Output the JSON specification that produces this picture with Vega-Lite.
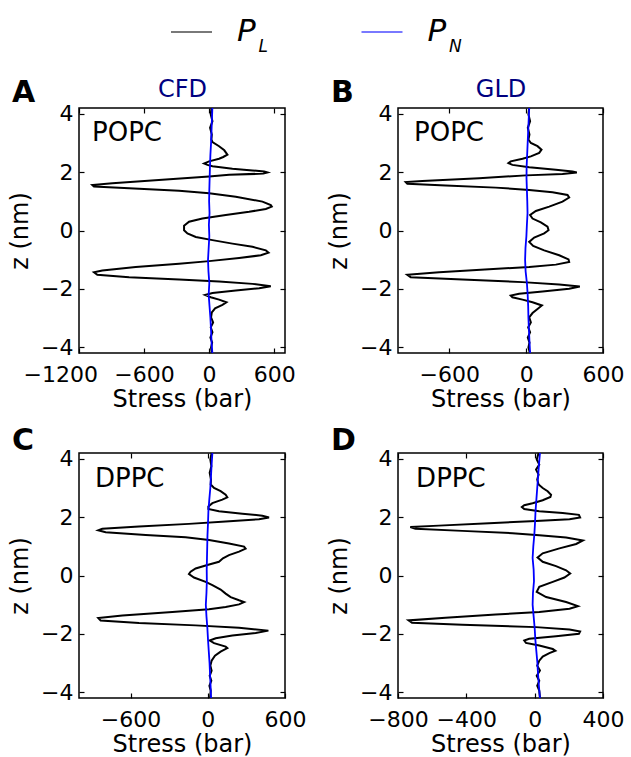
{
"$schema": "https://vega.github.io/schema/vega-lite/v6.json",
"autosize": {"type": "none"},
"padding": {"left": 79, "top": 0, "right": 552, "bottom": 757},
"background": "white",
"config": {
  "font": "DejaVu Sans",
  "view": {"stroke": null},
  "axis": {"tickSize": -5, "tickWidth": 1.2, "tickColor": "black", "domain": false, "grid": false,
    "labelFont": "DejaVu Sans", "labelFontSize": 22, "labelColor": "black",
    "titleFont": "DejaVu Sans", "titleFontSize": 24, "titleFontWeight": "normal", "titleColor": "black",
    "labelFlush": false, "labelOverlap": false, "labelBound": false},
  "title": {"font": "DejaVu Sans", "fontSize": 30, "fontWeight": "bold", "color": "black", "anchor": "start", "frame": "group", "baseline": "alphabetic"}
},
"datasets": {
"A_PL": [{"z":4.2,"stress":22},{"z":3.98,"stress":15},{"z":3.75,"stress":31},{"z":3.52,"stress":9},{"z":3.29,"stress":25},{"z":3.12,"stress":21},{"z":3.03,"stress":31},{"z":2.89,"stress":92},{"z":2.75,"stress":140},{"z":2.6,"stress":169},{"z":2.52,"stress":130},{"z":2.46,"stress":92},{"z":2.37,"stress":0},{"z":2.3,"stress":-46},{"z":2.25,"stress":-15},{"z":2.2,"stress":31},{"z":2.12,"stress":215},{"z":2.06,"stress":400},{"z":2.02,"stress":508},{"z":1.99,"stress":538},{"z":1.95,"stress":500},{"z":1.91,"stress":185},{"z":1.85,"stress":0},{"z":1.74,"stress":-431},{"z":1.62,"stress":-892},{"z":1.56,"stress":-1077},{"z":1.51,"stress":-1062},{"z":1.45,"stress":-738},{"z":1.36,"stress":-277},{"z":1.28,"stress":0},{"z":1.16,"stress":246},{"z":0.99,"stress":492},{"z":0.87,"stress":569},{"z":0.82,"stress":578},{"z":0.74,"stress":523},{"z":0.64,"stress":369},{"z":0.53,"stress":154},{"z":0.41,"stress":-62},{"z":0.3,"stress":-185},{"z":0.16,"stress":-231},{"z":0.01,"stress":-231},{"z":-0.1,"stress":-200},{"z":-0.22,"stress":-123},{"z":-0.33,"stress":31},{"z":-0.45,"stress":215},{"z":-0.56,"stress":400},{"z":-0.68,"stress":523},{"z":-0.76,"stress":548},{"z":-0.85,"stress":477},{"z":-0.94,"stress":277},{"z":-1.05,"stress":0},{"z":-1.14,"stress":-277},{"z":-1.25,"stress":-677},{"z":-1.37,"stress":-985},{"z":-1.43,"stress":-1062},{"z":-1.52,"stress":-1031},{"z":-1.6,"stress":-738},{"z":-1.68,"stress":-277},{"z":-1.75,"stress":92},{"z":-1.83,"stress":400},{"z":-1.91,"stress":569},{"z":-1.98,"stress":462},{"z":-2.06,"stress":246},{"z":-2.14,"stress":31},{"z":-2.21,"stress":-37},{"z":-2.29,"stress":15},{"z":-2.37,"stress":92},{"z":-2.46,"stress":160},{"z":-2.55,"stress":123},{"z":-2.67,"stress":55},{"z":-2.81,"stress":25},{"z":-2.98,"stress":18},{"z":-3.15,"stress":37},{"z":-3.32,"stress":15},{"z":-3.49,"stress":31},{"z":-3.67,"stress":12},{"z":-3.84,"stress":28},{"z":-4.01,"stress":18},{"z":-4.2,"stress":25}],
"A_PN": [{"z":4.2,"stress":30},{"z":3.8,"stress":26},{"z":3.4,"stress":22},{"z":3.0,"stress":18},{"z":2.6,"stress":12},{"z":2.2,"stress":8},{"z":1.8,"stress":5},{"z":1.4,"stress":2},{"z":1.0,"stress":0},{"z":0.6,"stress":4},{"z":0.2,"stress":-2},{"z":-0.2,"stress":2},{"z":-0.6,"stress":-4},{"z":-1.0,"stress":-10},{"z":-1.4,"stress":-6},{"z":-1.8,"stress":2},{"z":-2.2,"stress":-4},{"z":-2.6,"stress":4},{"z":-3.0,"stress":12},{"z":-3.4,"stress":18},{"z":-3.8,"stress":22},{"z":-4.2,"stress":30}],
"B_PL": [{"z":4.2,"stress":24},{"z":3.98,"stress":18},{"z":3.75,"stress":31},{"z":3.52,"stress":13},{"z":3.29,"stress":26},{"z":3.12,"stress":18},{"z":3.0,"stress":37},{"z":2.89,"stress":89},{"z":2.77,"stress":120},{"z":2.66,"stress":102},{"z":2.54,"stress":37},{"z":2.46,"stress":-28},{"z":2.37,"stress":-120},{"z":2.31,"stress":-138},{"z":2.25,"stress":-107},{"z":2.17,"stress":24},{"z":2.08,"stress":232},{"z":2.02,"stress":362},{"z":1.99,"stress":396},{"z":1.94,"stress":284},{"z":1.89,"stress":-2},{"z":1.79,"stress":-367},{"z":1.7,"stress":-810},{"z":1.66,"stress":-940},{"z":1.6,"stress":-927},{"z":1.54,"stress":-627},{"z":1.47,"stress":-237},{"z":1.39,"stress":24},{"z":1.31,"stress":206},{"z":1.22,"stress":323},{"z":1.13,"stress":336},{"z":0.99,"stress":284},{"z":0.82,"stress":180},{"z":0.67,"stress":76},{"z":0.53,"stress":31},{"z":0.41,"stress":50},{"z":0.28,"stress":115},{"z":0.13,"stress":167},{"z":0.01,"stress":175},{"z":-0.1,"stress":141},{"z":-0.24,"stress":63},{"z":-0.39,"stress":24},{"z":-0.53,"stress":55},{"z":-0.68,"stress":141},{"z":-0.85,"stress":258},{"z":-0.99,"stress":331},{"z":-1.08,"stress":336},{"z":-1.17,"stress":232},{"z":-1.25,"stress":24},{"z":-1.33,"stress":-289},{"z":-1.43,"stress":-679},{"z":-1.52,"stress":-927},{"z":-1.6,"stress":-901},{"z":-1.68,"stress":-497},{"z":-1.77,"stress":-28},{"z":-1.85,"stress":258},{"z":-1.92,"stress":419},{"z":-2.0,"stress":336},{"z":-2.09,"stress":128},{"z":-2.17,"stress":-55},{"z":-2.23,"stress":-120},{"z":-2.29,"stress":-107},{"z":-2.37,"stress":-28},{"z":-2.46,"stress":50},{"z":-2.57,"stress":123},{"z":-2.69,"stress":89},{"z":-2.83,"stress":50},{"z":-2.98,"stress":24},{"z":-3.15,"stress":37},{"z":-3.32,"stress":16},{"z":-3.49,"stress":31},{"z":-3.67,"stress":13},{"z":-3.84,"stress":26},{"z":-4.01,"stress":18},{"z":-4.2,"stress":29}],
"B_PN": [{"z":4.2,"stress":24},{"z":3.8,"stress":20},{"z":3.4,"stress":16},{"z":3.0,"stress":12},{"z":2.6,"stress":8},{"z":2.2,"stress":4},{"z":1.8,"stress":3},{"z":1.4,"stress":6},{"z":1.0,"stress":9},{"z":0.6,"stress":11},{"z":0.2,"stress":6},{"z":-0.2,"stress":2},{"z":-0.6,"stress":-5},{"z":-1.0,"stress":-8},{"z":-1.4,"stress":-4},{"z":-1.8,"stress":6},{"z":-2.2,"stress":12},{"z":-2.6,"stress":16},{"z":-3.0,"stress":18},{"z":-3.4,"stress":22},{"z":-3.8,"stress":26},{"z":-4.2,"stress":31}],
"C_PL": [{"z":4.2,"stress":30},{"z":3.98,"stress":20},{"z":3.75,"stress":28},{"z":3.52,"stress":15},{"z":3.29,"stress":25},{"z":3.12,"stress":23},{"z":3.0,"stress":49},{"z":2.89,"stress":100},{"z":2.77,"stress":139},{"z":2.68,"stress":152},{"z":2.6,"stress":113},{"z":2.48,"stress":36},{"z":2.37,"stress":5},{"z":2.28,"stress":5},{"z":2.2,"stress":87},{"z":2.12,"stress":269},{"z":2.05,"stress":424},{"z":1.99,"stress":476},{"z":1.93,"stress":398},{"z":1.85,"stress":139},{"z":1.77,"stress":-146},{"z":1.68,"stress":-534},{"z":1.6,"stress":-819},{"z":1.55,"stress":-850},{"z":1.48,"stress":-793},{"z":1.39,"stress":-482},{"z":1.31,"stress":-172},{"z":1.22,"stress":10},{"z":1.1,"stress":165},{"z":0.99,"stress":282},{"z":0.92,"stress":294},{"z":0.82,"stress":243},{"z":0.7,"stress":165},{"z":0.59,"stress":118},{"z":0.47,"stress":87},{"z":0.36,"stress":-3},{"z":0.24,"stress":-94},{"z":0.13,"stress":-133},{"z":0.05,"stress":-146},{"z":-0.07,"stress":-107},{"z":-0.22,"stress":-16},{"z":-0.33,"stress":36},{"z":-0.48,"stress":100},{"z":-0.62,"stress":139},{"z":-0.74,"stress":178},{"z":-0.85,"stress":243},{"z":-0.91,"stress":282},{"z":-0.99,"stress":243},{"z":-1.08,"stress":139},{"z":-1.16,"stress":10},{"z":-1.25,"stress":-275},{"z":-1.37,"stress":-663},{"z":-1.46,"stress":-850},{"z":-1.54,"stress":-832},{"z":-1.63,"stress":-534},{"z":-1.71,"stress":-94},{"z":-1.79,"stress":243},{"z":-1.89,"stress":471},{"z":-1.97,"stress":372},{"z":-2.06,"stress":191},{"z":-2.15,"stress":62},{"z":-2.23,"stress":15},{"z":-2.32,"stress":49},{"z":-2.44,"stress":139},{"z":-2.49,"stress":152},{"z":-2.61,"stress":100},{"z":-2.75,"stress":56},{"z":-2.92,"stress":30},{"z":-3.09,"stress":20},{"z":-3.26,"stress":30},{"z":-3.44,"stress":15},{"z":-3.61,"stress":28},{"z":-3.78,"stress":13},{"z":-3.95,"stress":23},{"z":-4.2,"stress":18}],
"C_PN": [{"z":4.2,"stress":36},{"z":3.8,"stress":30},{"z":3.4,"stress":25},{"z":3.0,"stress":20},{"z":2.6,"stress":12},{"z":2.2,"stress":5},{"z":1.8,"stress":2},{"z":1.4,"stress":-2},{"z":1.0,"stress":-4},{"z":0.6,"stress":-6},{"z":0.2,"stress":-8},{"z":-0.2,"stress":-7},{"z":-0.6,"stress":-10},{"z":-1.0,"stress":-15},{"z":-1.4,"stress":-10},{"z":-1.8,"stress":-3},{"z":-2.2,"stress":2},{"z":-2.6,"stress":8},{"z":-3.0,"stress":14},{"z":-3.4,"stress":18},{"z":-3.8,"stress":22},{"z":-4.2,"stress":26}],
"D_PL": [{"z":4.2,"stress":23},{"z":3.98,"stress":12},{"z":3.8,"stress":27},{"z":3.63,"stress":8},{"z":3.46,"stress":23},{"z":3.29,"stress":15},{"z":3.12,"stress":23},{"z":3.0,"stress":47},{"z":2.89,"stress":76},{"z":2.77,"stress":96},{"z":2.69,"stress":92},{"z":2.58,"stress":47},{"z":2.48,"stress":-12},{"z":2.41,"stress":-61},{"z":2.35,"stress":-75},{"z":2.28,"stress":-61},{"z":2.2,"stress":27},{"z":2.14,"stress":164},{"z":2.08,"stress":259},{"z":1.99,"stress":266},{"z":1.93,"stress":204},{"z":1.87,"stress":8},{"z":1.79,"stress":-267},{"z":1.71,"stress":-561},{"z":1.66,"stress":-728},{"z":1.6,"stress":-698},{"z":1.53,"stress":-424},{"z":1.45,"stress":-130},{"z":1.38,"stress":27},{"z":1.3,"stress":184},{"z":1.2,"stress":282},{"z":1.08,"stress":243},{"z":0.93,"stress":145},{"z":0.76,"stress":47},{"z":0.62,"stress":17},{"z":0.47,"stress":47},{"z":0.32,"stress":125},{"z":0.18,"stress":184},{"z":0.07,"stress":208},{"z":-0.07,"stress":174},{"z":-0.22,"stress":106},{"z":-0.39,"stress":27},{"z":-0.56,"stress":12},{"z":-0.74,"stress":67},{"z":-0.91,"stress":184},{"z":-1.05,"stress":253},{"z":-1.14,"stress":204},{"z":-1.25,"stress":27},{"z":-1.34,"stress":-228},{"z":-1.45,"stress":-522},{"z":-1.54,"stress":-738},{"z":-1.62,"stress":-718},{"z":-1.69,"stress":-424},{"z":-1.77,"stress":8},{"z":-1.85,"stress":204},{"z":-1.92,"stress":266},{"z":-2.0,"stress":259},{"z":-2.08,"stress":125},{"z":-2.17,"stress":-32},{"z":-2.23,"stress":-61},{"z":-2.31,"stress":-51},{"z":-2.4,"stress":27},{"z":-2.52,"stress":106},{"z":-2.58,"stress":121},{"z":-2.66,"stress":86},{"z":-2.78,"stress":47},{"z":-2.92,"stress":27},{"z":-3.09,"stress":15},{"z":-3.26,"stress":31},{"z":-3.44,"stress":12},{"z":-3.61,"stress":27},{"z":-3.78,"stress":15},{"z":-3.95,"stress":27},{"z":-4.2,"stress":31}],
"D_PN": [{"z":4.2,"stress":31},{"z":3.8,"stress":25},{"z":3.4,"stress":20},{"z":3.0,"stress":15},{"z":2.6,"stress":10},{"z":2.2,"stress":5},{"z":1.8,"stress":2},{"z":1.4,"stress":-2},{"z":1.0,"stress":-8},{"z":0.6,"stress":-12},{"z":0.2,"stress":-6},{"z":-0.2,"stress":-4},{"z":-0.6,"stress":-10},{"z":-1.0,"stress":-12},{"z":-1.4,"stress":-6},{"z":-1.8,"stress":0},{"z":-2.2,"stress":4},{"z":-2.6,"stress":10},{"z":-3.0,"stress":16},{"z":-3.4,"stress":20},{"z":-3.8,"stress":25},{"z":-4.2,"stress":31}]
},
"columns": 2,
"spacing": {"row": 100, "column": 113},
"bounds": "flush",
"align": "each",
"concat": [
  {
    "width": 206, "height": 8,
    "view": {"stroke": null},
    "data": {"values": [{"series": "P_L", "main": "P", "sub": "L"}, {"series": "P_N", "main": "P", "sub": "N"}]},
    "encoding": {
      "x": {"field": "series", "type": "nominal", "scale": {"type": "point", "domain": ["P_L", "P_N"], "padding": 0.0407, "align": 0}, "axis": null}
    },
    "layer": [
      {"mark": {"type": "tick", "orient": "horizontal", "size": 41, "thickness": 1.5, "xOffset": 112.5, "yOffset": 28},
       "encoding": {"color": {"field": "series", "type": "nominal", "scale": {"domain": ["P_L", "P_N"], "range": ["black", "#0000ff"]}, "legend": null}}},
      {"mark": {"type": "text", "align": "left", "baseline": "alphabetic", "fontSize": 31, "fontStyle": "italic", "xOffset": 158, "yOffset": 37, "color": "black"},
       "encoding": {"text": {"field": "main"}}},
      {"mark": {"type": "text", "align": "left", "baseline": "alphabetic", "fontSize": 17, "fontStyle": "italic", "xOffset": 179.5, "yOffset": 48, "color": "black"},
       "encoding": {"text": {"field": "sub"}}}
    ]
  },
  {
    "width": 1, "height": 1,
    "view": {"stroke": null},
    "data": {"values": [{"a": 1}]},
    "mark": {"type": "text", "text": ""}
  },
  {
    "width": 206, "height": 245,
    "view": {"stroke": "black", "strokeWidth": 1.5},
    "title": {"text": "A", "dx": -67, "offset": -31},
    "layer": [
      {"data": {"name": "A_PL"}, "mark": {"type": "line", "color": "black", "strokeWidth": 2},
       "encoding": {
         "x": {"field": "stress", "type": "quantitative", "scale": {"domain": [-1200, 700], "nice": false, "zero": false},
               "axis": {"orient": "bottom", "values": [-1200, -600, 0, 600], "format": "d", "title": "Stress (bar)", "labelPadding": 16, "titlePadding": 2, "labelFlush": true, "labelFlushOffset": 56}},
         "y": {"field": "z", "type": "quantitative", "scale": {"domain": [-4.2, 4.2], "nice": false, "zero": false},
               "axis": {"orient": "left", "values": [-4, -2, 0, 2, 4], "format": "d", "title": "z (nm)", "labelPadding": 11, "titlePadding": 8}},
         "order": {"field": "z", "type": "quantitative"}}},
      {"data": {"name": "A_PN"}, "mark": {"type": "line", "color": "#0000ff", "strokeWidth": 1.8},
       "encoding": {
         "x": {"field": "stress", "type": "quantitative", "axis": {"orient": "top", "values": [-1200, -600, 0, 600], "labels": false, "title": "CFD", "titleColor": "#000080", "titlePadding": 6}},
         "y": {"field": "z", "type": "quantitative", "axis": {"orient": "right", "values": [-4, -2, 0, 2, 4], "labels": false, "title": null}},
         "order": {"field": "z", "type": "quantitative"}}},
      {"data": {"values": [{"label": "POPC"}]}, "mark": {"type": "text", "align": "left", "baseline": "alphabetic", "fontSize": 26, "color": "black"},
       "encoding": {"text": {"field": "label"},
         "x": {"datum": -1080, "type": "quantitative", "axis": null},
         "y": {"datum": 3.08, "type": "quantitative", "axis": null}}}
    ],
    "resolve": {"axis": {"x": "independent", "y": "independent"}}
  },
  {
    "width": 205, "height": 245,
    "view": {"stroke": "black", "strokeWidth": 1.5},
    "title": {"text": "B", "dx": -67, "offset": -31},
    "layer": [
      {"data": {"name": "B_PL"}, "mark": {"type": "line", "color": "black", "strokeWidth": 2},
       "encoding": {
         "x": {"field": "stress", "type": "quantitative", "scale": {"domain": [-1000, 600], "nice": false, "zero": false},
               "axis": {"orient": "bottom", "values": [-600, 0, 600], "format": "d", "title": "Stress (bar)", "labelPadding": 16, "titlePadding": 2}},
         "y": {"field": "z", "type": "quantitative", "scale": {"domain": [-4.2, 4.2], "nice": false, "zero": false},
               "axis": {"orient": "left", "values": [-4, -2, 0, 2, 4], "format": "d", "title": "z (nm)", "labelPadding": 11, "titlePadding": 8}},
         "order": {"field": "z", "type": "quantitative"}}},
      {"data": {"name": "B_PN"}, "mark": {"type": "line", "color": "#0000ff", "strokeWidth": 1.8},
       "encoding": {
         "x": {"field": "stress", "type": "quantitative", "axis": {"orient": "top", "values": [-600, 0, 600], "labels": false, "title": "GLD", "titleColor": "#000080", "titlePadding": 6}},
         "y": {"field": "z", "type": "quantitative", "axis": {"orient": "right", "values": [-4, -2, 0, 2, 4], "labels": false, "title": null}},
         "order": {"field": "z", "type": "quantitative"}}},
      {"data": {"values": [{"label": "POPC"}]}, "mark": {"type": "text", "align": "left", "baseline": "alphabetic", "fontSize": 26, "color": "black"},
       "encoding": {"text": {"field": "label"},
         "x": {"datum": -875, "type": "quantitative", "axis": null},
         "y": {"datum": 3.08, "type": "quantitative", "axis": null}}}
    ],
    "resolve": {"axis": {"x": "independent", "y": "independent"}}
  },
  {
    "width": 206, "height": 245,
    "view": {"stroke": "black", "strokeWidth": 1.5},
    "title": {"text": "C", "dx": -67, "offset": -8},
    "layer": [
      {"data": {"name": "C_PL"}, "mark": {"type": "line", "color": "black", "strokeWidth": 2},
       "encoding": {
         "x": {"field": "stress", "type": "quantitative", "scale": {"domain": [-1000, 600], "nice": false, "zero": false},
               "axis": {"orient": "bottom", "values": [-600, 0, 600], "format": "d", "title": "Stress (bar)", "labelPadding": 16, "titlePadding": 2}},
         "y": {"field": "z", "type": "quantitative", "scale": {"domain": [-4.2, 4.2], "nice": false, "zero": false},
               "axis": {"orient": "left", "values": [-4, -2, 0, 2, 4], "format": "d", "title": "z (nm)", "labelPadding": 11, "titlePadding": 8}},
         "order": {"field": "z", "type": "quantitative"}}},
      {"data": {"name": "C_PN"}, "mark": {"type": "line", "color": "#0000ff", "strokeWidth": 1.8},
       "encoding": {
         "x": {"field": "stress", "type": "quantitative", "axis": {"orient": "top", "values": [-600, 0, 600], "labels": false, "title": null}},
         "y": {"field": "z", "type": "quantitative", "axis": {"orient": "right", "values": [-4, -2, 0, 2, 4], "labels": false, "title": null}},
         "order": {"field": "z", "type": "quantitative"}}},
      {"data": {"values": [{"label": "DPPC"}]}, "mark": {"type": "text", "align": "left", "baseline": "alphabetic", "fontSize": 26, "color": "black"},
       "encoding": {"text": {"field": "label"},
         "x": {"datum": -876, "type": "quantitative", "axis": null},
         "y": {"datum": 3.05, "type": "quantitative", "axis": null}}}
    ],
    "resolve": {"axis": {"x": "independent", "y": "independent"}}
  },
  {
    "width": 205, "height": 245,
    "view": {"stroke": "black", "strokeWidth": 1.5},
    "title": {"text": "D", "dx": -67, "offset": -8},
    "layer": [
      {"data": {"name": "D_PL"}, "mark": {"type": "line", "color": "black", "strokeWidth": 2},
       "encoding": {
         "x": {"field": "stress", "type": "quantitative", "scale": {"domain": [-800, 400], "nice": false, "zero": false},
               "axis": {"orient": "bottom", "values": [-800, -400, 0, 400], "format": "d", "title": "Stress (bar)", "labelPadding": 16, "titlePadding": 2}},
         "y": {"field": "z", "type": "quantitative", "scale": {"domain": [-4.2, 4.2], "nice": false, "zero": false},
               "axis": {"orient": "left", "values": [-4, -2, 0, 2, 4], "format": "d", "title": "z (nm)", "labelPadding": 11, "titlePadding": 8}},
         "order": {"field": "z", "type": "quantitative"}}},
      {"data": {"name": "D_PN"}, "mark": {"type": "line", "color": "#0000ff", "strokeWidth": 1.8},
       "encoding": {
         "x": {"field": "stress", "type": "quantitative", "axis": {"orient": "top", "values": [-800, -400, 0, 400], "labels": false, "title": null}},
         "y": {"field": "z", "type": "quantitative", "axis": {"orient": "right", "values": [-4, -2, 0, 2, 4], "labels": false, "title": null}},
         "order": {"field": "z", "type": "quantitative"}}},
      {"data": {"values": [{"label": "DPPC"}]}, "mark": {"type": "text", "align": "left", "baseline": "alphabetic", "fontSize": 26, "color": "black"},
       "encoding": {"text": {"field": "label"},
         "x": {"datum": -694, "type": "quantitative", "axis": null},
         "y": {"datum": 3.05, "type": "quantitative", "axis": null}}}
    ],
    "resolve": {"axis": {"x": "independent", "y": "independent"}}
  }
]
}
